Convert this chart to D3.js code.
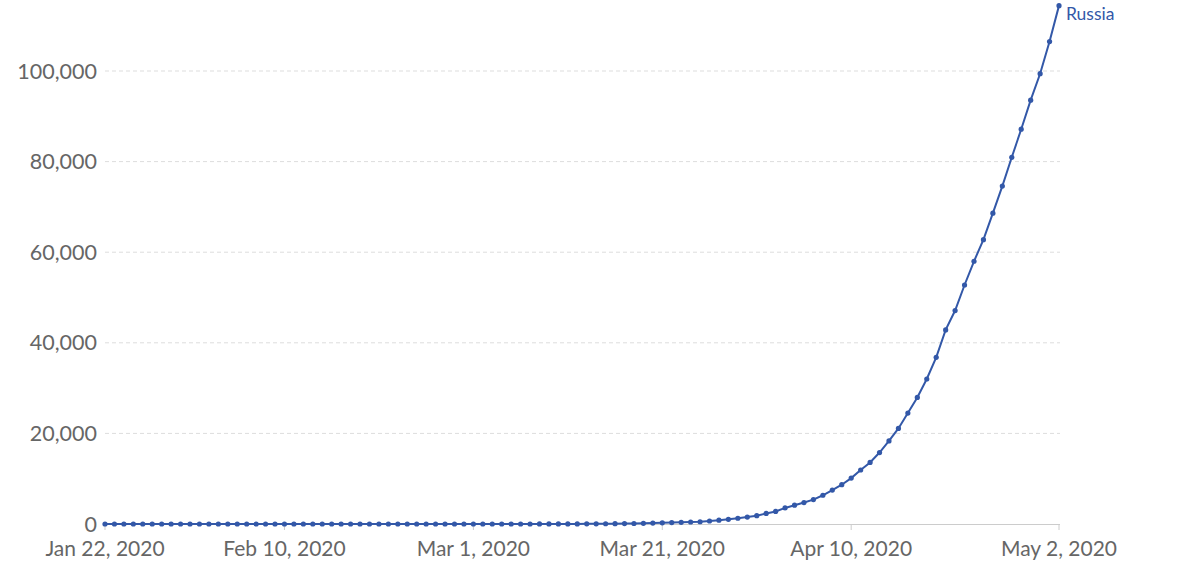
<!DOCTYPE html>
<html><head><meta charset="utf-8">
<script src="https://cdn.jsdelivr.net/npm/d3@7"></script>
<style>body{margin:0;background:#fff}text{font-family:Lato,"Open Sans",sans-serif}</style>
</head><body><svg id="c" width="1190" height="572"></svg>
<script>
const startDate = "2020-01-22";
const seriesName = "Russia";
const values = [0,0,0,0,0,0,0,0,0,0,
2,2,2,2,2,2,2,2,2,2,2,2,2,2,2,2,2,2,2,2,2,2,2,2,2,2,2,2,2,2,2,
3,3,3,4,4,13,17,17,17,20,28,45,59,63,90,114,147,199,253,306,367,438,495,658,840,1036,1264,1534,1836,
2337,2777,3548,4149,4731,5389,6343,7497,8672,10131,11917,13584,15770,18328,21102,24490,27938,32008,36793,42853,47121,52763,57999,62773,68622,74588,80949,87147,93558,99399,
106498,114431];
const yTicks = [0,20000,40000,60000,80000,100000];
const xTickDates = ["2020-01-22","2020-02-10","2020-03-01","2020-03-21","2020-04-10","2020-05-02"];

const parse = d3.utcParse("%Y-%m-%d");
const t0 = parse(startDate);
const data = values.map((v,i)=>({d:d3.utcDay.offset(t0,i),v}));
const svg = d3.select("#c");
const x = d3.scaleUtc().domain([t0, data[data.length-1].d]).range([105,1059]);
const y = d3.scaleLinear().domain([0,100000]).range([524,71]);
const fmtD = d3.utcFormat("%b %-d, %Y");

svg.append("g").selectAll("line").data(yTicks.slice(1)).join("line")
 .attr("x1",105).attr("x2",1060).attr("y1",d=>y(d)).attr("y2",d=>y(d))
 .attr("stroke","#ddd").attr("stroke-dasharray","4,3");
svg.append("g").selectAll("text").data(yTicks).join("text")
 .attr("x",97).attr("y",d=>y(d)).attr("dy","0.35em").attr("text-anchor","end")
 .attr("font-size",21.5).attr("fill","#666").text(d3.format(","));
svg.append("line").attr("x1",105).attr("x2",1060).attr("y1",524.5).attr("y2",524.5).attr("stroke","#ccc");
const xt = svg.append("g").selectAll("g").data(xTickDates.map(parse)).join("g").attr("transform",d=>`translate(${x(d)},0)`);
xt.append("line").attr("y1",524).attr("y2",530).attr("stroke","#ccc");
xt.append("text").attr("y",556).attr("text-anchor","middle").attr("font-size",21).attr("fill","#666").text(fmtD);

const col = "#3358a8";
svg.append("path").datum(data).attr("fill","none").attr("stroke",col).attr("stroke-width",2)
 .attr("d",d3.line().x(d=>x(d.d)).y(d=>y(d.v)));
svg.append("g").selectAll("circle").data(data).join("circle")
 .attr("cx",d=>x(d.d)).attr("cy",d=>y(d.v)).attr("r",2.6).attr("fill",col);
const last = data[data.length-1];
svg.append("text").attr("x",x(last.d)+7).attr("y",14).attr("dy","0.35em")
 .attr("font-size",17.5).attr("fill",col).text(seriesName);
</script></body></html>
